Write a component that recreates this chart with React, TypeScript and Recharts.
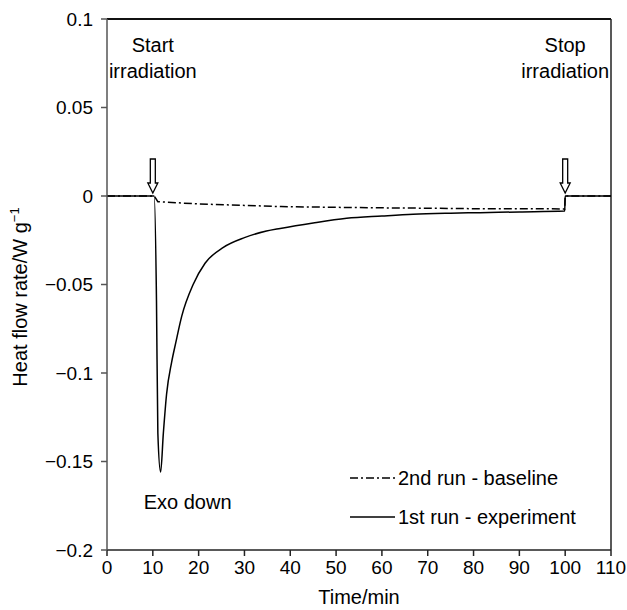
import { LineChart, Line, XAxis, YAxis, ReferenceLine, ReferenceDot } from "recharts";

// 1st run - experiment (solid)
const expTime = [0, 10, 10.3, 10.8, 11.1, 11.7, 12.3, 13, 14.1, 15, 16.3, 18.8, 21.4, 25.4, 30, 34.8, 37.8, 45, 52.3, 60, 66.8, 75, 81.4, 90, 99.9, 100, 110];
const expHeat = [0, 0, 0, -0.059, -0.134, -0.156, -0.134, -0.112, -0.094, -0.083, -0.068, -0.05, -0.038, -0.029, -0.0235, -0.0198, -0.0183, -0.0152, -0.0126, -0.0113, -0.0103, -0.0097, -0.0094, -0.009, -0.0085, 0, 0];

// 2nd run - baseline (dash-dot)
const baseTime = [0, 10.3, 11.1, 20, 30, 38, 50, 60, 70, 81, 90, 99.9, 100, 110];
const baseHeat = [0, 0, -0.0032, -0.0045, -0.0053, -0.006, -0.0064, -0.0067, -0.0069, -0.0072, -0.0072, -0.0073, 0, 0];

const xTicks = [0, 10, 20, 30, 40, 50, 60, 70, 80, 90, 100, 110];
const yTicks = [-0.2, -0.15, -0.1, -0.05, 0, 0.05, 0.1];

const expData = expTime.map((t, i) => ({ t, v: expHeat[i] }));
const baseData = baseTime.map((t, i) => ({ t, v: baseHeat[i] }));

const FONT = "'Liberation Sans', Arial, sans-serif";
const tick = { fill: "#000", fontSize: 19, fontFamily: FONT };
const fmtY = (v: number) => (v < 0 ? "\u2212" + Math.abs(v) : String(v));

const Arrow = ({ cx, cy, top, bottom }: any) => (
  <g fontFamily={FONT} fontSize={20} fill="#000">
    <text x={cx} y={cy - 144} textAnchor="middle">{top}</text>
    <text x={cx} y={cy - 118} textAnchor="middle">{bottom}</text>
    <path
      d={`M${cx - 2.5},${cy - 37} L${cx + 2.5},${cy - 37} L${cx + 2.5},${cy - 13} L${cx + 5},${cy - 13} L${cx},${cy - 3} L${cx - 5},${cy - 13} L${cx - 2.5},${cy - 13} Z`}
      fill="#fff"
      stroke="#000"
      strokeWidth={1.3}
    />
  </g>
);

const LegendBox = () => (
  <div style={{ fontFamily: FONT, fontSize: 20, color: "#000", lineHeight: "22px" }}>
    <div style={{ display: "flex", alignItems: "center", height: 22, marginBottom: 17 }}>
      <svg width={52} height={22} style={{ flex: "none" }}>
        <line x1={4} y1={11} x2={49} y2={11} stroke="#000" strokeWidth={1.5} strokeDasharray="8 3 2 3" />
      </svg>
      <span>2nd run - baseline</span>
    </div>
    <div style={{ display: "flex", alignItems: "center", height: 22 }}>
      <svg width={52} height={22} style={{ flex: "none" }}>
        <line x1={4} y1={11} x2={49} y2={11} stroke="#000" strokeWidth={1.5} />
      </svg>
      <span>1st run - experiment</span>
    </div>
  </div>
);

export default function App() {
  return (
    <div style={{ position: "absolute", left: 0, top: 0, width: 627, height: 610, background: "#fff" }}>
      <LineChart width={627} height={610} margin={{ top: 19, right: 16, bottom: 20, left: 27 }}>
        <XAxis
          dataKey="t"
          type="number"
          domain={[0, 110]}
          ticks={xTicks}
          interval={0}
          tick={tick}
          tickSize={6}
          tickMargin={5}
          height={40}
          stroke="#222"
          strokeWidth={1.5}
          allowDuplicatedCategory={false}
          label={{
            content: () => (
              <text x={359} y={604} textAnchor="middle" fontFamily={FONT} fontSize={20} fill="#000">Time/min</text>
            ),
          }}
        />
        <YAxis
          type="number"
          domain={[-0.2, 0.1]}
          ticks={yTicks}
          interval={0}
          tick={tick}
          tickFormatter={fmtY}
          tickSize={6}
          tickMargin={8}
          width={80}
          stroke="#555"
          strokeWidth={1.5}
          label={{
            content: () => (
              <text x={27} y={297} transform="rotate(-90 27 297)" textAnchor="middle" fontFamily={FONT} fontSize={20} fill="#000">
                Heat flow rate/W g<tspan dy={-8} fontSize={13}>{"\u22121"}</tspan>
              </text>
            ),
          }}
        />
        <ReferenceLine y={0.1} stroke="#111" strokeWidth={2} />
        <ReferenceLine x={110} stroke="#222" strokeWidth={1.5} />
        <Line
          data={baseData}
          dataKey="v"
          type="linear"
          stroke="#000"
          strokeWidth={1.5}
          strokeDasharray="8 3 2 3"
          dot={false}
          isAnimationActive={false}
        />
        <Line
          data={expData}
          dataKey="v"
          type="monotone"
          stroke="#000"
          strokeWidth={1.5}
          dot={false}
          isAnimationActive={false}
        />
        <ReferenceDot x={10} y={0} shape={(p: any) => <Arrow {...p} top="Start" bottom="irradiation" />} />
        <ReferenceDot x={100} y={0} shape={(p: any) => <Arrow {...p} top="Stop" bottom="irradiation" />} />
        <ReferenceDot
          x={11.7}
          y={-0.156}
          shape={(p: any) => (
            <text x={p.cx + 27} y={p.cy + 37} textAnchor="middle" fontFamily={FONT} fontSize={20} fill="#000">Exo down</text>
          )}
        />
      </LineChart>
      <div style={{ position: "absolute", left: 346, top: 467 }}>
        <LegendBox />
      </div>
    </div>
  );
}
